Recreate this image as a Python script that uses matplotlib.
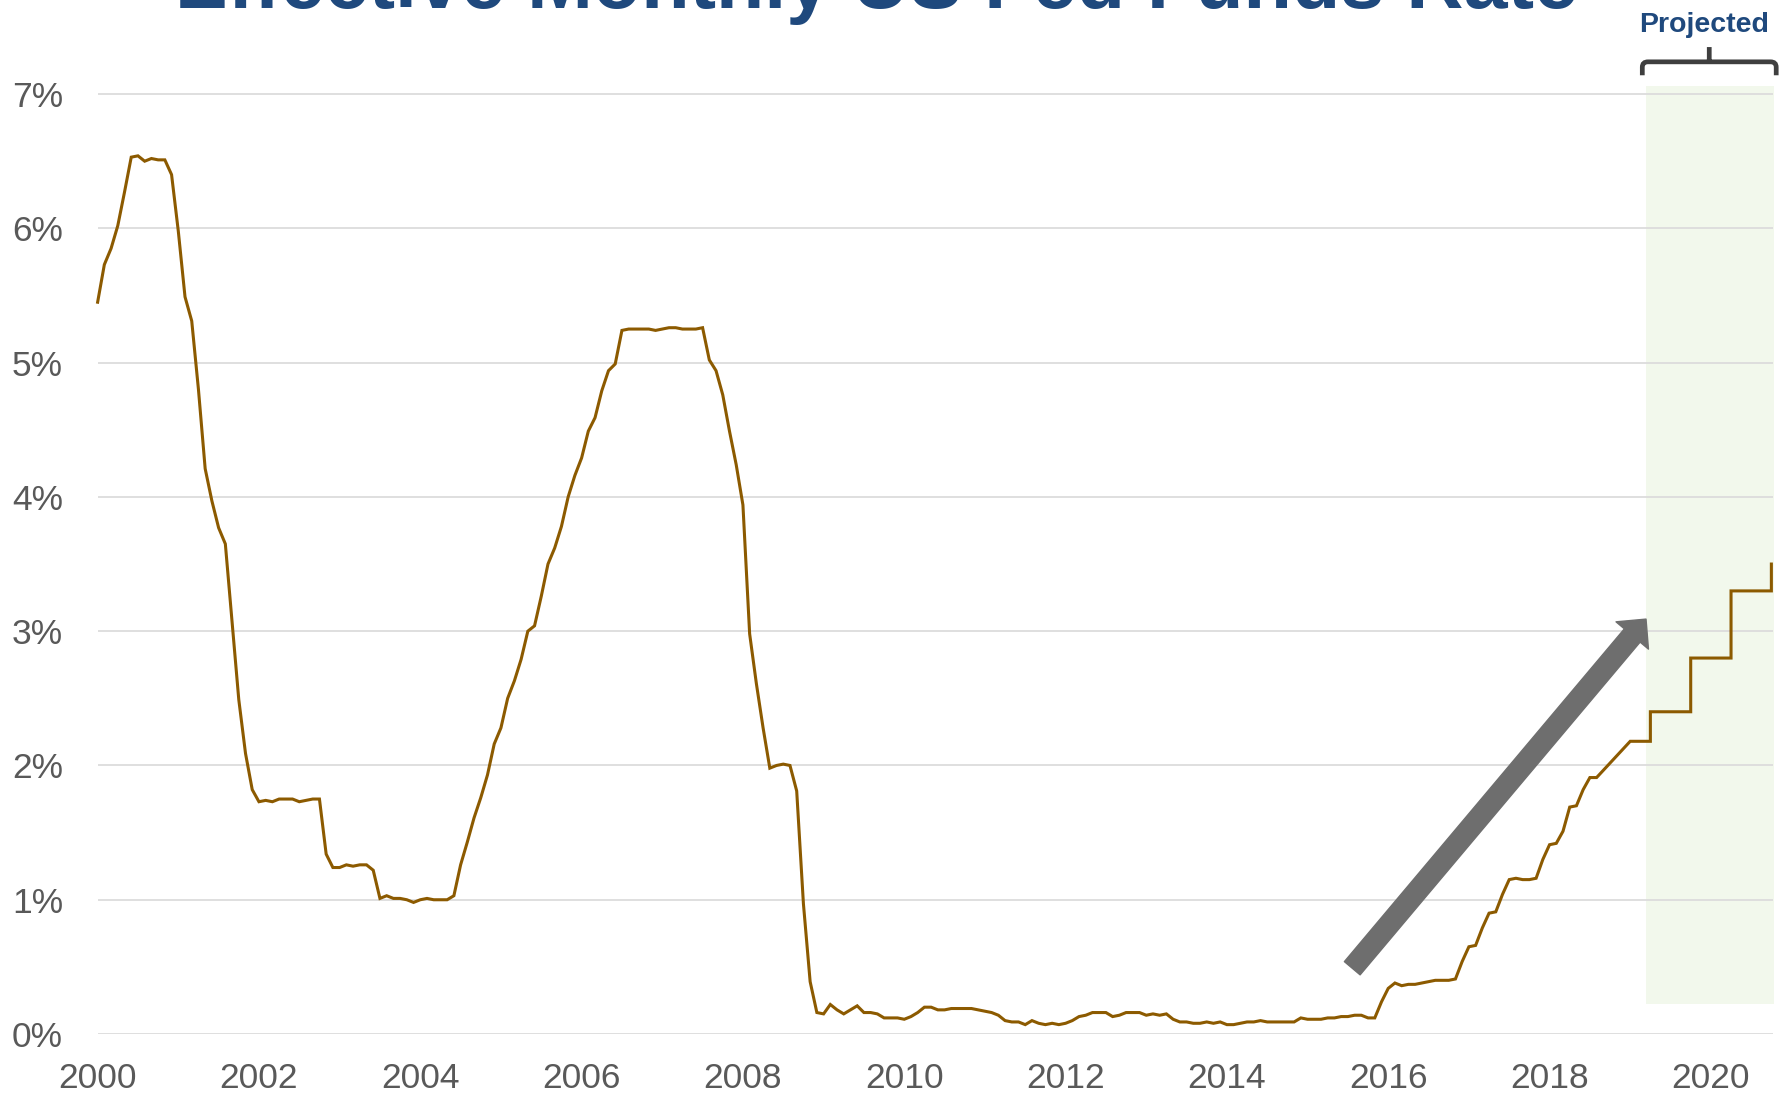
import matplotlib
matplotlib.use("Agg")
import matplotlib.pyplot as plt
import numpy as np
from matplotlib.patches import FancyArrowPatch, PathPatch
from matplotlib.path import Path

plt.rcParams['font.family'] = ['Liberation Sans', 'DejaVu Sans']

# ---------------- data (effective monthly fed funds rate, %) ----------------
rates_2000 = [5.45, 5.73, 5.85, 6.02, 6.27, 6.53, 6.54, 6.50, 6.52, 6.51, 6.51, 6.40]
rates_2001 = [5.98, 5.49, 5.31, 4.80, 4.21, 3.97, 3.77, 3.65, 3.07, 2.49, 2.09, 1.82]
rates_2002 = [1.73, 1.74, 1.73, 1.75, 1.75, 1.75, 1.73, 1.74, 1.75, 1.75, 1.34, 1.24]
rates_2003 = [1.24, 1.26, 1.25, 1.26, 1.26, 1.22, 1.01, 1.03, 1.01, 1.01, 1.00, 0.98]
rates_2004 = [1.00, 1.01, 1.00, 1.00, 1.00, 1.03, 1.26, 1.43, 1.61, 1.76, 1.93, 2.16]
rates_2005 = [2.28, 2.50, 2.63, 2.79, 3.00, 3.04, 3.26, 3.50, 3.62, 3.78, 4.00, 4.16]
rates_2006 = [4.29, 4.49, 4.59, 4.79, 4.94, 4.99, 5.24, 5.25, 5.25, 5.25, 5.25, 5.24]
rates_2007 = [5.25, 5.26, 5.26, 5.25, 5.25, 5.25, 5.26, 5.02, 4.94, 4.76, 4.49, 4.24]
rates_2008 = [3.94, 2.98, 2.61, 2.28, 1.98, 2.00, 2.01, 2.00, 1.81, 0.97, 0.39, 0.16]
rates_2009 = [0.15, 0.22, 0.18, 0.15, 0.18, 0.21, 0.16, 0.16, 0.15, 0.12, 0.12, 0.12]
rates_2010 = [0.11, 0.13, 0.16, 0.20, 0.20, 0.18, 0.18, 0.19, 0.19, 0.19, 0.19, 0.18]
rates_2011 = [0.17, 0.16, 0.14, 0.10, 0.09, 0.09, 0.07, 0.10, 0.08, 0.07, 0.08, 0.07]
rates_2012 = [0.08, 0.10, 0.13, 0.14, 0.16, 0.16, 0.16, 0.13, 0.14, 0.16, 0.16, 0.16]
rates_2013 = [0.14, 0.15, 0.14, 0.15, 0.11, 0.09, 0.09, 0.08, 0.08, 0.09, 0.08, 0.09]
rates_2014 = [0.07, 0.07, 0.08, 0.09, 0.09, 0.10, 0.09, 0.09, 0.09, 0.09, 0.09, 0.12]
rates_2015 = [0.11, 0.11, 0.11, 0.12, 0.12, 0.13, 0.13, 0.14, 0.14, 0.12, 0.12, 0.24]
rates_2016 = [0.34, 0.38, 0.36, 0.37, 0.37, 0.38, 0.39, 0.40, 0.40, 0.40, 0.41, 0.54]
rates_2017 = [0.65, 0.66, 0.79, 0.90, 0.91, 1.04, 1.15, 1.16, 1.15, 1.15, 1.16, 1.30]
rates_2018 = [1.41, 1.42, 1.51, 1.69, 1.70, 1.82, 1.91, 1.91]

# projected path (decimal year, %)
projected_dates = [2019.0, 2019.25, 2019.25, 2019.75, 2019.75, 2020.25, 2020.25, 2020.75, 2020.75]
projected_rates = [2.18, 2.18, 2.40, 2.40, 2.80, 2.80, 3.30, 3.30, 3.50]

y_ticks = [0, 1, 2, 3, 4, 5, 6, 7]
y_tick_labels = ['0%', '1%', '2%', '3%', '4%', '5%', '6%', '7%']
x_ticks = [2000, 2002, 2004, 2006, 2008, 2010, 2012, 2014, 2016, 2018, 2020]
x_tick_labels = ['2000', '2002', '2004', '2006', '2008', '2010', '2012', '2014', '2016', '2018', '2020']

TITLE = 'Effective Monthly US Fed Funds Rate'
PROJ_LABEL = 'Projected'

# ---------------- annotation geometry ----------------
PROJ_START, PROJ_END = 2019.19, 2020.78
PROJ_BOTTOM, PROJ_TOP = 0.22, 7.06
ARROW_START = (2015.554, 0.49)
ARROW_END = (2019.196, 3.09)
BRACKET_X0, BRACKET_X1 = 2019.15, 2020.81
BRACKET_Y, BRACKET_END_Y, BRACKET_TIP_Y = 7.24, 7.14, 7.35
PROJ_LABEL_Y = 7.465

# ---------------- build series ----------------
actual = np.concatenate([rates_2000, rates_2001, rates_2002, rates_2003, rates_2004,
                         rates_2005, rates_2006, rates_2007, rates_2008, rates_2009,
                         rates_2010, rates_2011, rates_2012, rates_2013, rates_2014,
                         rates_2015, rates_2016, rates_2017, rates_2018])
actual_dates = 2000 + np.arange(len(actual)) / 12.0
all_dates = np.concatenate([actual_dates, projected_dates])
all_rates = np.concatenate([actual, projected_rates])

LINE_COLOR = '#8C5A00'
BLUE = '#1F497D'
GRAY_TXT = '#595959'

fig = plt.figure(figsize=(17.88, 10.97), dpi=100)
ax = fig.add_axes([0.0546, 0.0574, 0.9370, 0.8642])

ax.fill_between([PROJ_START, PROJ_END], PROJ_BOTTOM, PROJ_TOP, color='#F2F8EC',
                zorder=0, linewidth=0)
ax.plot(all_dates, all_rates, color=LINE_COLOR, lw=2.2, zorder=3, clip_on=False,
        solid_joinstyle='miter')

ax.set_xlim(2000, 2020.77)
ax.set_ylim(0, 7.06)
ax.set_yticks(y_ticks)
ax.set_yticklabels(y_tick_labels)
ax.set_xticks(x_ticks)
ax.set_xticklabels(x_tick_labels)
ax.tick_params(axis='both', length=0, labelsize=25.5, labelcolor=GRAY_TXT)
ax.tick_params(axis='y', pad=25)
ax.tick_params(axis='x', pad=20)
ax.yaxis.grid(True, color='#DCDCDC', lw=1.3, zorder=0.5)
ax.xaxis.grid(False)
ax.set_axisbelow(True)
for s in ax.spines.values():
    s.set_visible(False)

arrow = FancyArrowPatch(ARROW_START, ARROW_END,
                        arrowstyle='simple,head_length=15.4,head_width=30.5,tail_width=14.8',
                        mutation_scale=1, color='#6E6E6E', shrinkA=0, shrinkB=0,
                        zorder=4, transform=ax.transData, clip_on=False)
ax.add_patch(arrow)

# bracket over projected region
rx, ry = 0.07, 0.04
verts = [(BRACKET_X0, BRACKET_END_Y), (BRACKET_X0, BRACKET_Y - ry),
         (BRACKET_X0, BRACKET_Y), (BRACKET_X0 + rx, BRACKET_Y),
         (BRACKET_X1 - rx, BRACKET_Y),
         (BRACKET_X1, BRACKET_Y), (BRACKET_X1, BRACKET_Y - ry),
         (BRACKET_X1, BRACKET_END_Y)]
codes = [Path.MOVETO, Path.LINETO, Path.CURVE3, Path.CURVE3, Path.LINETO,
         Path.CURVE3, Path.CURVE3, Path.LINETO]
xc = (BRACKET_X0 + BRACKET_X1) / 2
verts += [(xc, BRACKET_Y), (xc, BRACKET_TIP_Y)]
codes += [Path.MOVETO, Path.LINETO]
ax.add_patch(PathPatch(Path(verts, codes), facecolor='none', edgecolor='#3F3F3F',
                       lw=3.4, clip_on=False, zorder=5, capstyle='butt'))

ax.text(xc - 0.06, PROJ_LABEL_Y, PROJ_LABEL, ha='center', va='baseline',
        fontsize=20.5, fontweight='bold', color=BLUE, clip_on=False)

fig.text(0.4905, 1 - 8 / 1097, TITLE, ha='center', va='baseline', fontsize=57,
         fontweight='bold', color=BLUE)

fig.savefig('out.png', dpi=100)
